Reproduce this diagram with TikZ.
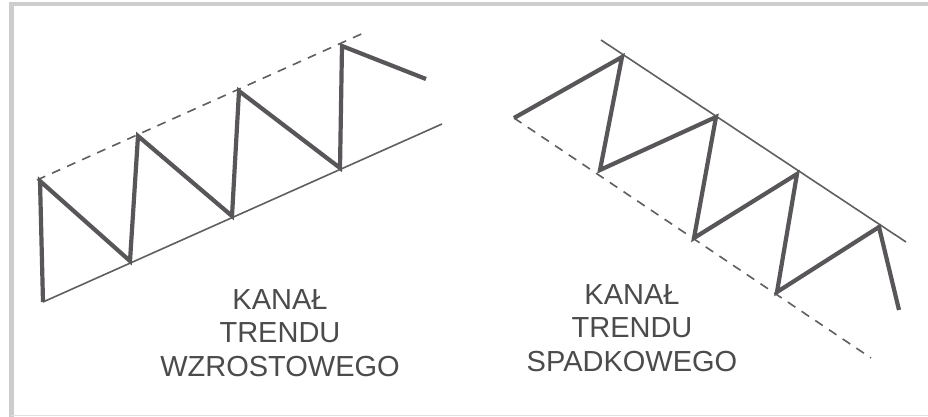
\documentclass[tikz,border=0pt]{standalone}
\usepackage{fontspec}
\setmainfont{Liberation Sans}
\begin{document}
\begin{tikzpicture}[x=1pt,y=-1pt,
  zig/.style={draw=zigc,line width=4.2pt,line join=miter,line cap=butt},
  thinline/.style={draw=linec,line width=1.6pt},
  dashline/.style={draw=linec,line width=1.6pt,dash pattern=on 9pt off 7.5pt},
  lbl/.style={text=txtc,font=\fontsize{29}{33.5}\selectfont,align=center,inner sep=0pt}]
\definecolor{zigc}{RGB}{88,86,88}
\definecolor{linec}{RGB}{95,95,95}
\definecolor{txtc}{RGB}{75,75,75}
\definecolor{framec}{RGB}{205,205,205}
\useasboundingbox (0,0) rectangle (928,417);
\fill[white] (0,0) rectangle (928,417);
% frame
\draw[framec,line width=4pt] (9,4) -- (928,4);
\draw[framec,line width=5pt] (11,4) -- (11,417);
\draw[framec!60,line width=1.5pt] (11,415.5) -- (928,415.5);
% left chart
\coordinate (a0) at (43,302);
\coordinate (a1) at (40,181);
\coordinate (a2) at (130,261);
\coordinate (a3) at (138,136);
\coordinate (a4) at (232,216);
\coordinate (a5) at (239,91);
\coordinate (a6) at (340,168);
\coordinate (a7) at (342,46);
\coordinate (a8) at (426,79);
\coordinate (sL) at (442,124);
\coordinate (dA) at (37,180);
\coordinate (dB) at (368,31);
\draw[thinline] (a0) -- (sL);
\draw[dashline] (dA) -- (dB);
\draw[zig] (a0) -- (a1) -- (a2) -- (a3) -- (a4) -- (a5) -- (a6) -- (a7) -- (a8);
% right chart
\coordinate (b0) at (514,118);
\coordinate (b1) at (622,57);
\coordinate (b2) at (600,170);
\coordinate (b3) at (716,117);
\coordinate (b4) at (694,238);
\coordinate (b5) at (797,174);
\coordinate (b6) at (777,292);
\coordinate (b7) at (879,227);
\coordinate (b8) at (899,310);
\coordinate (rA) at (601,40);
\coordinate (rB) at (906,242);
\coordinate (eB) at (871,358);
\draw[thinline] (rA) -- (rB);
\draw[dashline] (b0) -- (eB);
\draw[zig] (b0) -- (b1) -- (b2) -- (b3) -- (b4) -- (b5) -- (b6) -- (b7) -- (b8);
% labels
\node[lbl,anchor=north] (tL) at (280,289) {KANAŁ\\TRENDU\\WZROSTOWEGO};
\node[lbl,anchor=north] (tR) at (632,284) {KANAŁ\\TRENDU\\SPADKOWEGO};
\end{tikzpicture}
\end{document}
